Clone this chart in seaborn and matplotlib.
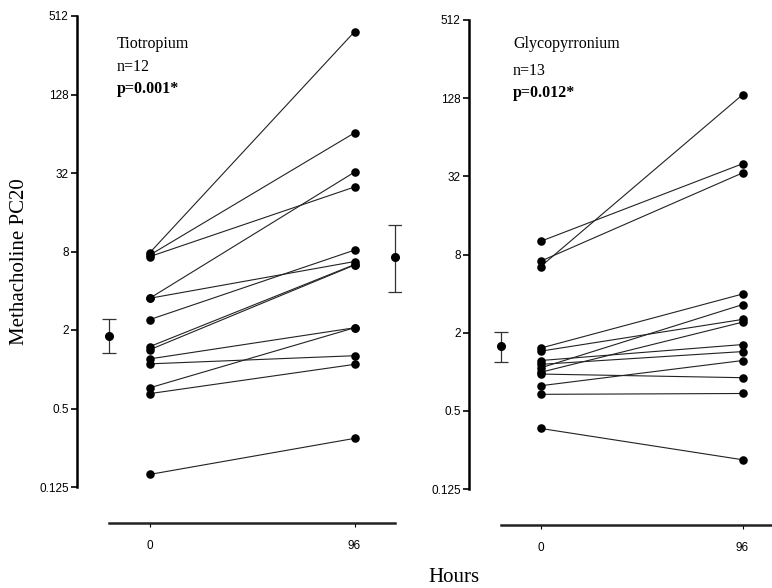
import numpy as np
import pandas as pd
import seaborn as sns
import matplotlib
matplotlib.use("Agg")
import matplotlib.pyplot as plt

sns.set_theme(style="white")
plt.rcParams['font.family'] = ['Liberation Sans', 'DejaVu Sans']
plt.rcParams['text.color'] = 'black'
plt.rcParams['xtick.color'] = 'black'
plt.rcParams['ytick.color'] = 'black'

# ---- data ----
hours = [0, 96]
tio_0h = [7.8, 7.5, 7.3, 3.5, 3.5, 2.4, 1.49, 1.41, 1.2, 1.1, 0.72, 0.65, 0.156]
tio_96h = [388, 65, 25, 32.5, 6.7, 8.2, 6.35, 6.3, 2.08, 1.27, 2.08, 1.09, 0.295]
gly_0h = [10.1, 7.1, 6.45, 1.52, 1.44, 1.22, 1.14, 1.07, 0.99, 0.96, 0.78, 0.67, 0.366]
gly_96h = [40, 34, 136, 3.97, 2.53, 1.62, 1.43, 3.29, 2.41, 0.90, 1.22, 0.68, 0.21]

# mean and error bars (x position, mean, lower, upper)
tio_mean_x = [-19, 115]
tio_mean = [1.8, 7.27]
tio_low = [1.33, 3.94]
tio_high = [2.43, 12.8]
gly_mean_x = [-19]
gly_mean = [1.57]
gly_low = [1.19]
gly_high = [2.04]

yticks = [0.125, 0.5, 2, 8, 32, 128, 512]
ytick_labels = ['0.125', '0.5', '2', '8', '32', '128', '512']
xticks = [0, 96]
xtick_labels = ['0', '96']

panels = [
    dict(name='Tiotropium', n='n=12', p='p=0.001*', pre=tio_0h, post=tio_96h,
         mx=tio_mean_x, m=tio_mean, lo=tio_low, hi=tio_high,
         rect_px=(77, 16, 401.5, 487), xlim=(-34, 118), xb=(-19, 115),
         txt_px=(117, 44, 67, 89)),
    dict(name='Glycopyrronium', n='n=13', p='p=0.012*', pre=gly_0h, post=gly_96h,
         mx=gly_mean_x, m=gly_mean, lo=gly_low, hi=gly_high,
         rect_px=(469, 20, 772, 489), xlim=(-34, 110), xb=(-19, 110),
         txt_px=(513, 44, 71, 93)),
]

W, H = 772, 588
fig = plt.figure(figsize=(W / 100, H / 100), dpi=100)

for pn in panels:
    l, t, r, b = pn['rect_px']
    ax = fig.add_axes([l / W, 1 - b / H, (r - l) / W, (b - t) / H])
    rows = []
    for i, (a, c) in enumerate(zip(pn['pre'], pn['post'])):
        rows.append(dict(subject=i, hour=hours[0], pc20=a))
        rows.append(dict(subject=i, hour=hours[1], pc20=c))
    df = pd.DataFrame(rows)
    sns.lineplot(data=df, x='hour', y='pc20', units='subject', estimator=None,
                 color='#222222', linewidth=0.8, ax=ax, legend=False)
    sns.scatterplot(data=df, x='hour', y='pc20', color='black', s=38,
                    edgecolor='black', linewidth=0, ax=ax, legend=False, zorder=3)
    m = np.array(pn['m'])
    yerr = np.vstack([m - np.array(pn['lo']), np.array(pn['hi']) - m])
    ax.errorbar(pn['mx'], m, yerr=yerr, fmt='o', color='black', ecolor='#333333',
                elinewidth=0.9, capsize=5, capthick=0.9, markersize=5.5, zorder=3)

    ax.set_yscale('log', base=2)
    ax.set_ylim(0.125, 512)
    ax.set_xlim(*pn['xlim'])
    ax.set_yticks(yticks)
    ax.set_yticklabels(ytick_labels)
    ax.yaxis.set_minor_locator(matplotlib.ticker.NullLocator())
    ax.set_xticks(xticks)
    ax.set_xticklabels(xtick_labels)
    ax.set_xlabel('')
    ax.set_ylabel('')
    for s in ['top', 'right']:
        ax.spines[s].set_visible(False)
    ax.spines['left'].set_linewidth(1.8)
    ax.spines['left'].set_color('black')
    ax.spines['bottom'].set_linewidth(1.8)
    ax.spines['bottom'].set_color('#222222')
    ax.spines['bottom'].set_position(('outward', 26))
    ax.spines['bottom'].set_bounds(*pn['xb'])
    ax.tick_params(axis='y', which='major', left=True, length=4, width=1.2,
                   labelsize=8.5, pad=2, colors='black')
    ax.tick_params(axis='x', which='major', bottom=True, length=3, width=0.8,
                   labelsize=8.5, pad=9, colors='black')
    ax.set_facecolor('none')
    ax.grid(False)

    tx, y1, y2, y3 = pn['txt_px']
    fig.text(tx / W, 1 - y1 / H, pn['name'], family='Liberation Serif',
             fontsize=11.5, va='center', ha='left', color='black')
    fig.text(tx / W, 1 - y2 / H, pn['n'], family='Liberation Serif',
             fontsize=11.5, va='center', ha='left', color='black')
    fig.text(tx / W, 1 - y3 / H, pn['p'], family='Liberation Serif',
             fontsize=11.5, va='center', ha='left', fontweight='bold', color='black')

fig.text(20 / W, 1 - 262 / H, 'Methacholine PC20', family='Liberation Serif',
         fontsize=15, rotation=90, va='center', ha='center', color='black')
fig.text(454 / W, 1 - 578 / H, 'Hours', family='Liberation Serif',
         fontsize=15, va='center', ha='center', color='black')

fig.savefig('out.png', dpi=100)
